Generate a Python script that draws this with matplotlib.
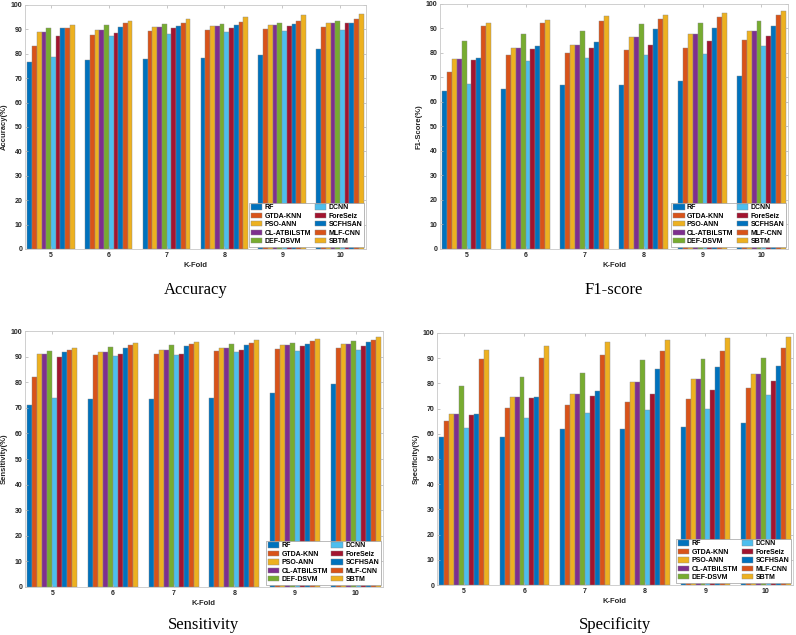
import numpy as np
import matplotlib
matplotlib.use('Agg')
import matplotlib.pyplot as plt

plt.rcParams['font.family'] = ['Liberation Sans', 'DejaVu Sans']

folds = [5, 6, 7, 8, 9, 10]
methods = ['RF', 'GTDA-KNN', 'PSO-ANN', 'CL-ATBiLSTM', 'DEF-DSVM',
           'DCNN', 'ForeSeiz', 'SCFHSAN', 'MLF-CNN', 'SBTM']
# MATLAB default colour order (repeats after 7)
colors = ['#0072BD', '#D95319', '#EDB120', '#7E2F8E', '#77AC30',
          '#4DBEEE', '#A2142F', '#0072BD', '#D95319', '#EDB120']

# rows = methods, columns = K-Fold 5..10
accuracy = [
    [76.6, 77.5, 77.9, 78.2, 79.6, 82.1],
    [83.0, 87.8, 89.3, 89.9, 90.3, 91.1],
    [88.9, 89.7, 90.8, 91.2, 91.8, 92.5],
    [88.9, 89.7, 90.8, 91.2, 91.8, 92.5],
    [90.7, 91.9, 92.1, 92.3, 92.7, 93.4],
    [78.6, 87.3, 88.1, 88.8, 89.3, 89.9],
    [87.4, 88.4, 90.4, 90.7, 91.2, 92.5],
    [90.4, 91.1, 91.2, 91.8, 92.2, 92.5],
    [90.7, 92.6, 92.6, 92.9, 93.3, 94.1],
    [91.8, 93.4, 94.4, 95.1, 95.8, 96.4],
]
f1score = [
    [64.3, 65.3, 66.9, 67.0, 68.5, 70.7],
    [72.2, 79.1, 80.0, 81.2, 82.2, 85.1],
    [77.6, 82.2, 83.4, 86.5, 87.7, 88.9],
    [77.6, 82.2, 83.4, 86.4, 87.6, 88.9],
    [85.0, 87.8, 88.9, 91.9, 92.3, 93.1],
    [67.4, 76.5, 77.8, 79.2, 79.6, 83.0],
    [77.0, 81.4, 82.0, 83.1, 84.7, 87.0],
    [78.1, 83.0, 84.5, 89.6, 90.3, 90.9],
    [91.1, 92.2, 93.0, 93.9, 94.5, 95.3],
    [92.4, 93.5, 94.9, 95.5, 96.2, 96.9],
]
sensitivity = [
    [71.1, 73.4, 73.5, 73.7, 75.9, 79.4],
    [81.9, 90.5, 90.9, 92.2, 93.1, 93.4],
    [91.0, 91.9, 92.6, 93.5, 94.5, 94.9],
    [91.0, 91.9, 92.6, 93.5, 94.5, 94.9],
    [92.3, 93.9, 94.5, 94.9, 95.4, 96.1],
    [73.8, 90.2, 90.5, 91.8, 92.2, 92.7],
    [90.0, 90.9, 91.1, 92.7, 94.0, 94.1],
    [91.8, 93.4, 94.0, 94.5, 95.0, 95.6],
    [92.7, 94.4, 94.9, 95.3, 96.0, 96.5],
    [93.5, 95.3, 95.8, 96.5, 96.9, 97.7],
]
specificity = [
    [58.8, 58.9, 61.7, 61.7, 62.7, 64.1],
    [64.9, 70.3, 71.5, 72.7, 73.6, 78.2],
    [67.8, 74.4, 75.8, 80.6, 81.8, 83.9],
    [67.8, 74.4, 75.8, 80.6, 81.8, 83.9],
    [79.0, 82.4, 84.0, 89.2, 89.6, 90.2],
    [62.2, 66.4, 68.2, 69.6, 69.9, 75.3],
    [67.4, 74.1, 74.8, 75.6, 77.3, 81.0],
    [68.0, 74.6, 76.9, 85.5, 86.3, 86.8],
    [89.8, 90.2, 91.1, 92.9, 92.9, 93.9],
    [93.3, 94.7, 96.4, 97.1, 97.8, 98.4],
]

panels = [
    (accuracy, 'Accuracy(%)', 'Accuracy', [0.0314, 0.6079, 0.4284, 0.3843]),
    (f1score, 'F1-Score(%)', 'F1-score', [0.5528, 0.6079, 0.4372, 0.3860]),
    (sensitivity, 'Sensitivity(%)', 'Sensitivity', [0.0314, 0.0756, 0.4497, 0.4031]),
    (specificity, 'Specificity(%)', 'Specificity', [0.5490, 0.0787, 0.4472, 0.3970]),
]

fig = plt.figure(figsize=(7.96, 6.35), dpi=100)
x = np.array(folds, dtype=float)
n = len(methods)
group_w = 0.82
bw = group_w / n

for data, ylab, caption, pos in panels:
    ax = fig.add_axes(pos)
    for i, (name, vals) in enumerate(zip(methods, data)):
        off = (i - (n - 1) / 2) * bw
        ax.bar(x + off, vals, width=bw, color=colors[i], label=name,
               edgecolor='#8a8a8a', linewidth=0.3)
    ax.set_xlim(4.55, 10.45)
    ax.set_ylim(0, 100)
    ax.set_xticks(folds)
    ax.set_yticks(np.arange(0, 101, 10))
    ax.tick_params(direction='in', length=2.5, width=0.5, color='#b0b0b0',
                   labelsize=5, labelcolor='#262626', pad=2,
                   top=True, right=True)
    for lb in ax.get_xticklabels() + ax.get_yticklabels():
        lb.set_fontweight('bold')
    for sp in ax.spines.values():
        sp.set_color('#c8c8c8')
        sp.set_linewidth(0.6)
    ax.set_xlabel('K-Fold', fontsize=5.5, fontweight='bold', color='#262626', labelpad=2)
    ax.set_ylabel(ylab, fontsize=5.5, fontweight='bold', color='#262626', labelpad=2)
    leg = ax.legend(loc='lower right', ncol=2, prop={'weight': 'bold', 'size': 5},
                    handlelength=1.7, handleheight=0.8, handletextpad=0.3,
                    columnspacing=0.5, labelspacing=0.2, borderpad=0.25,
                    borderaxespad=0.3, fancybox=False, framealpha=1,
                    edgecolor='#a0a0a0')
    leg.get_frame().set_linewidth(0.5)
    cx = pos[0] + pos[2] / 2
    cy = 0.543 if pos[1] > 0.5 else 0.016
    fig.text(cx, cy, caption, ha='center', va='center', fontsize=12,
             family=['Liberation Serif', 'DejaVu Serif'])

fig.savefig('out.png', dpi=100)
